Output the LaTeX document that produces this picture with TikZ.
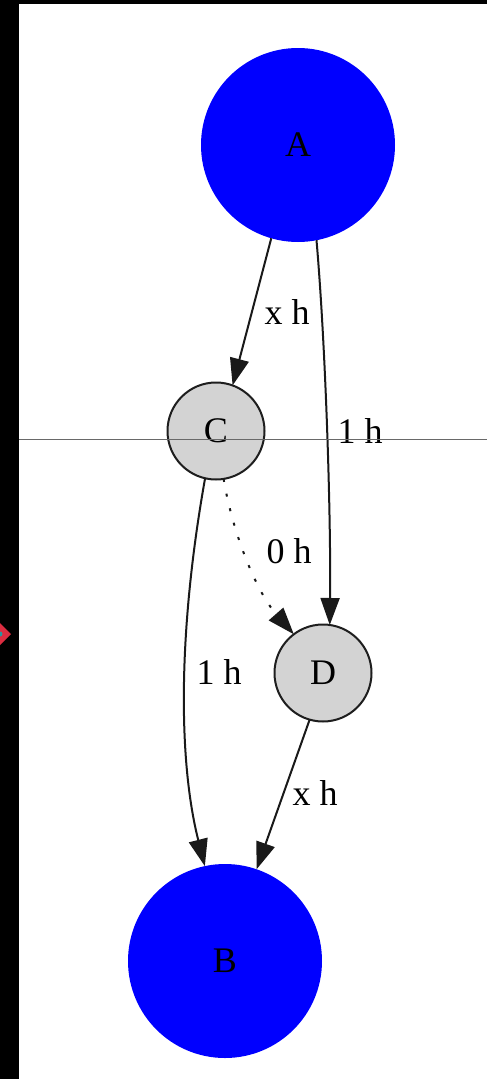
\documentclass[tikz,border=0pt]{standalone}
\usepackage{fontspec}
\setmainfont{Liberation Serif}
\usetikzlibrary{arrows.meta}
\definecolor{gvblue}{RGB}{0,0,255}
\definecolor{gvgray}{RGB}{211,211,211}
\definecolor{rulegray}{RGB}{105,105,105}
\definecolor{mkred}{RGB}{220,45,65}
\definecolor{mkteal}{RGB}{40,150,160}
\begin{document}
\begin{tikzpicture}[x=1pt,y=-1pt,
  bignode/.style={circle, fill=gvblue, draw=none, minimum size=194pt, inner sep=0pt, outer sep=0pt, font=\fontsize{36}{40}\selectfont},
  smallnode/.style={circle, fill=gvgray, draw={rgb,255:red,30;green,30;blue,30}, line width=2pt, minimum size=97pt, inner sep=0pt, outer sep=0pt, font=\fontsize{36}{40}\selectfont},
  link/.style={line width=2pt, draw={rgb,255:red,25;green,25;blue,25}, -{Triangle[length=27pt,width=19pt]}},
  elabel/.style={anchor=base, inner sep=0pt, font=\fontsize{36}{40}\selectfont}
]
\useasboundingbox (0,0) rectangle (487,1079);
\fill[white] (0,0) rectangle (487,1079);

\node[bignode] (A) at (298,145) {A};
\node[smallnode] (C) at (216,431) {C};
\node[smallnode] (D) at (323,673) {D};
\node[bignode] (B) at (225,961) {B};

\draw[link] (A.254) -- (C.70);
\draw[link] (A.281) .. controls (326,350) and (331,520) .. (D.82);
\draw[link, dash pattern=on 3pt off 12pt] (C.279) .. controls (232,530) and (255,590) .. (D.127);
\draw[link] (C.257) .. controls (178,630) and (178,760) .. (B.102);
\draw[link] (D.254) -- (B.71);

\node[elabel] (l1) at (287,324) {x h};
\node[elabel] (l2) at (360,443) {1 h};
\node[elabel] (l3) at (289,563) {0 h};
\node[elabel] (l4) at (219,684) {1 h};
\node[elabel] (l5) at (315,805) {x h};

% screenshot artefacts
\coordinate (rl) at (18,439);
\coordinate (rr) at (487,439);
\draw[rulegray, line width=0.9pt] (rl) -- (rr);
\fill[black] (0,0) rectangle (18.5,1079);
\fill[black] (0,0) rectangle (487,4);
\coordinate (mk) at (0,634);
\fill[mkred] (-11,634) -- (0,623) -- (11,634) -- (0,645) -- cycle;
\fill[mkteal] (mk) circle (2.5pt);
\end{tikzpicture}
\end{document}
